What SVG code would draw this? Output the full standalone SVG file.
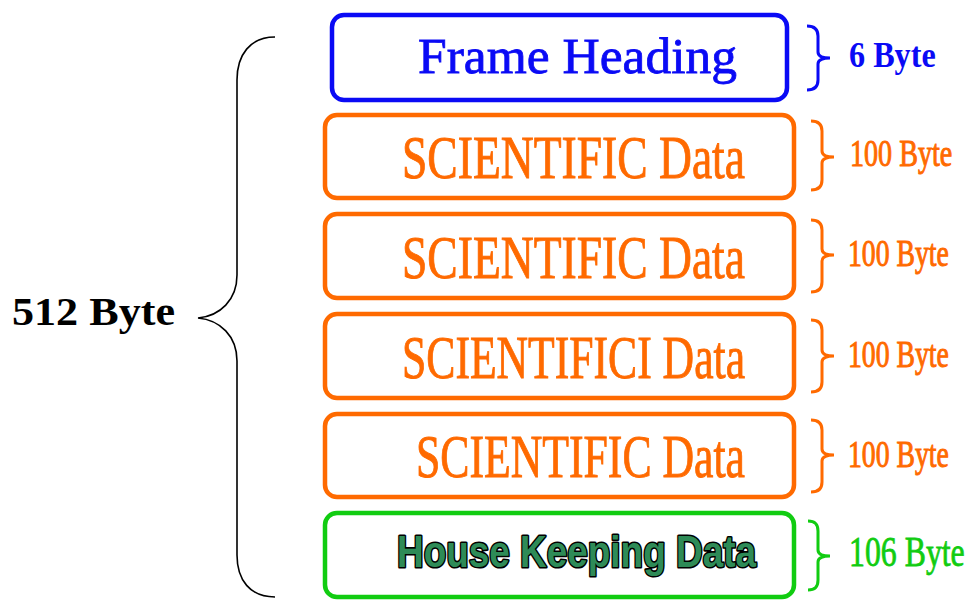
<svg xmlns="http://www.w3.org/2000/svg" width="968" height="601" viewBox="0 0 968 601">
<style>
.box{fill:#fff;stroke-width:4.5}
.blue{stroke:#0a0af5}
.org{stroke:#ff6a00}
.grn{stroke:#11cc11}
.brace{fill:none;stroke-width:3}
.serif{font-family:"Liberation Serif","Times New Roman",serif}
.big{font-size:61px;fill:#ff6a00;stroke:#ff6a00;stroke-width:0.9}
.lab{font-size:38px;fill:#ff6a00;stroke:#ff6a00;stroke-width:1}
</style>
<rect width="968" height="601" fill="#fff"/>
<g id="connectors">
<path id="brace-total" d="M275,37 C250,37 237,55 237,80 L237,275 C237,300 220,316 198,318 C220,320 237,336 237,361 L237,555 C237,580 250,597 275,597" fill="none" stroke="#000" stroke-width="1.6"/>
<path class="brace blue" d="M807,26 C814,26 818,29 818,36 L818,52 C818,56 822,58 830,58 C822,58 818,60 818,64 L818,80 C818,87 814,90 807,90"/>
<path class="brace org" d="M811,121 C818,121 822,124 822,131 L822,151 C822,155 826,157 834,157 C826,157 822,159 822,163 L822,180 C822,187 818,190 811,190"/>
<path class="brace org" d="M811,220 C818,220 822,223 822,230 L822,249 C822,253 826,255 834,255 C826,255 822,257 822,261 L822,282 C822,289 818,292 811,292"/>
<path class="brace org" d="M811,320 C818,320 822,323 822,330 L822,350 C822,354 826,356 834,356 C826,356 822,358 822,362 L822,382 C822,389 818,392 811,392"/>
<path class="brace org" d="M811,420 C818,420 822,423 822,430 L822,449 C822,453 826,455 834,455 C826,455 822,457 822,461 L822,482 C822,489 818,492 811,492"/>
<path class="brace grn" d="M808,521 C815,521 818,524 818,531 L818,550 C818,554 822,556 830,556 C822,556 818,558 818,562 L818,580 C818,587 815,590 808,590"/>
</g>
<g id="total-label">
<text class="serif" x="12" y="325" font-size="40" font-weight="bold" fill="#000" textLength="163" lengthAdjust="spacingAndGlyphs">512 Byte</text>
</g>
<g id="frame-heading">
<rect class="box blue" x="332" y="15" width="455" height="85" rx="12"/>
<text class="serif" x="418" y="73" font-size="51" fill="#0a0af5" stroke="#0a0af5" stroke-width="0.8" textLength="319" lengthAdjust="spacingAndGlyphs">Frame Heading</text>
<text class="serif" transform="translate(849,67) scale(0.92,1)" font-size="35" font-weight="bold" fill="#0a0af5">6 Byte</text>
</g>
<g id="sci-1">
<rect class="box org" x="325" y="115" width="469" height="83" rx="12"/>
<text class="serif big" x="402" y="178" textLength="343" lengthAdjust="spacingAndGlyphs">SCIENTIFIC Data</text>
<text class="serif lab" transform="translate(850,166) scale(0.74,1)">100 Byte</text>
</g>
<g id="sci-2">
<rect class="box org" x="325" y="214" width="469" height="84" rx="12"/>
<text class="serif big" x="402" y="278" textLength="343" lengthAdjust="spacingAndGlyphs">SCIENTIFIC Data</text>
<text class="serif lab" transform="translate(848,266) scale(0.73,1)">100 Byte</text>
</g>
<g id="sci-3">
<rect class="box org" x="325" y="314" width="469" height="84" rx="12"/>
<text class="serif big" x="402" y="378" textLength="343" lengthAdjust="spacingAndGlyphs">SCIENTIFICI Data</text>
<text class="serif lab" transform="translate(848,367) scale(0.73,1)">100 Byte</text>
</g>
<g id="sci-4">
<rect class="box org" x="325" y="414" width="469" height="83" rx="12"/>
<text class="serif big" x="416" y="477" textLength="329" lengthAdjust="spacingAndGlyphs">SCIENTIFIC Data</text>
<text class="serif lab" transform="translate(848,467) scale(0.73,1)">100 Byte</text>
</g>
<g id="housekeeping">
<rect class="box grn" x="325" y="513" width="469" height="84" rx="12"/>
<text x="397" y="567" font-family="'Liberation Sans',Arial,sans-serif" font-size="45" font-weight="bold" fill="#2e8b57" stroke="#000" stroke-width="3.2" stroke-linejoin="round" paint-order="stroke" textLength="359" lengthAdjust="spacingAndGlyphs">House Keeping Data</text>
<text class="serif" transform="translate(849,566) scale(0.74,1)" font-size="43" fill="#11cc11" stroke="#11cc11" stroke-width="0.8">106 Byte</text>
</g>
</svg>
